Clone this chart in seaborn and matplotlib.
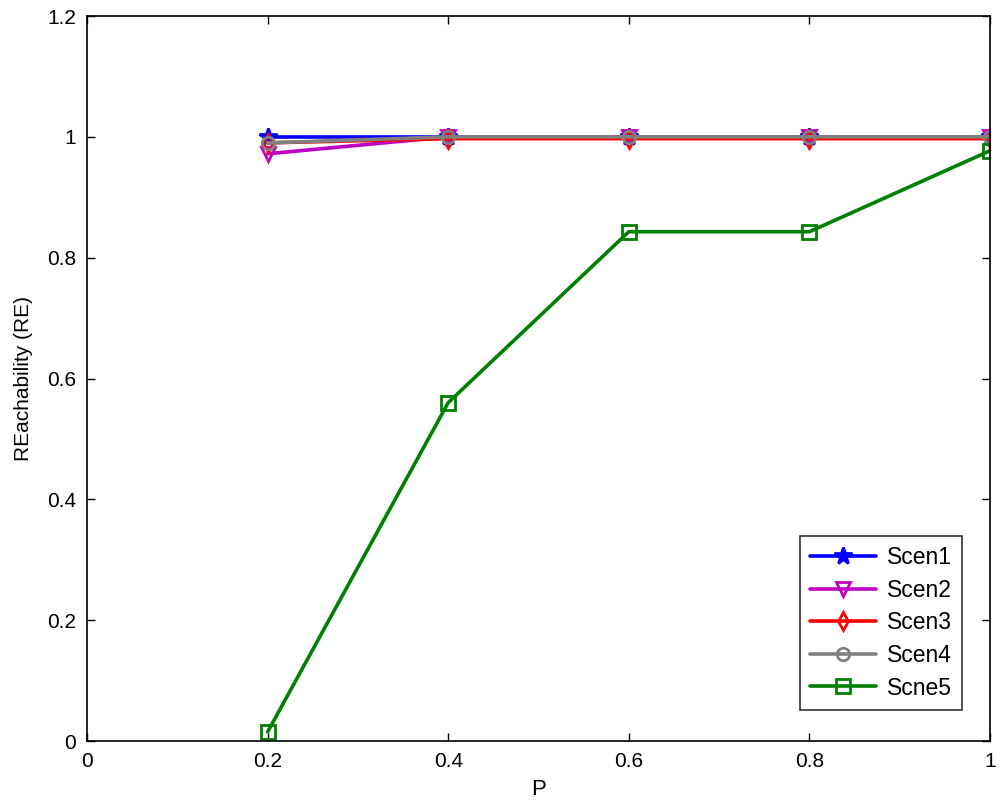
import pandas as pd
import numpy as np
import matplotlib
matplotlib.use("Agg")
import matplotlib.pyplot as plt
import seaborn as sns

# data
p_vals = [0.2, 0.4, 0.6, 0.8, 1.0]
scen1 = [1.0, 1.0, 1.0, 1.0, 1.0]
scen2 = [0.972, 1.0, 1.0, 1.0, 1.0]
scen3 = [0.99, 0.997, 0.997, 0.997, 0.997]
scen4 = [0.99, 1.0, 1.0, 1.0, 1.0]
scen5 = [0.015, 0.56, 0.843, 0.843, 0.977]
names = ["Scen1", "Scen2", "Scen3", "Scen4", "Scne5"]

sns.set_style("white")
plt.rcParams['font.family'] = ['Liberation Sans', 'DejaVu Sans']
plt.rcParams['text.color'] = 'black'
plt.rcParams['axes.labelcolor'] = 'black'

fig = plt.figure(figsize=(10, 8.05), dpi=100)
ax = fig.add_axes([0.087, 0.0795, 0.903, 0.9006])

styles = [
    ("blue", "*", "blue", 13),
    ("#c000c0", "v", "none", 10),
    ("red", "d", "none", 9),
    ("gray", "o", "none", 9),
    ("green", "s", "none", 10),
]
all_vals = [scen1, scen2, scen3, scen4, scen5]
for name, vals, (col, mk, mfc, ms) in zip(names, all_vals, styles):
    df = pd.DataFrame({"P": p_vals, "RE": vals})
    sns.lineplot(data=df, x="P", y="RE", ax=ax, color=col, marker=mk,
                 markerfacecolor=mfc, markeredgecolor=col, markersize=ms,
                 markeredgewidth=2, linewidth=2.6, label=name)

ax.set_xlim(0, 1)
ax.set_ylim(0, 1.2)
ax.set_xticks([0, 0.2, 0.4, 0.6, 0.8, 1])
ax.set_xticklabels(["0", "0.2", "0.4", "0.6", "0.8", "1"])
ax.set_yticks([0, 0.2, 0.4, 0.6, 0.8, 1, 1.2])
ax.set_yticklabels(["0", "0.2", "0.4", "0.6", "0.8", "1", "1.2"])
ax.tick_params(direction="in", length=6, width=1, labelsize=15, colors="black",
               top=True, right=True, bottom=True, left=True, pad=8)
for s in ax.spines.values():
    s.set_color("black")
    s.set_linewidth(1.2)
ax.set_xlabel("P", fontsize=16, labelpad=6)
ax.set_ylabel("REachability (RE)", fontsize=15, labelpad=10)

leg = ax.legend(loc="lower right", bbox_to_anchor=(0.969, 0.043),
                borderaxespad=0, fontsize=16.5,
                frameon=True, fancybox=False, edgecolor="black",
                handlelength=2.9, handletextpad=0.45, borderpad=0.45,
                labelspacing=0.42)
leg.get_frame().set_linewidth(1.2)
for t in leg.get_texts():
    t.set_color("black")

fig.savefig("out.png", dpi=100)
